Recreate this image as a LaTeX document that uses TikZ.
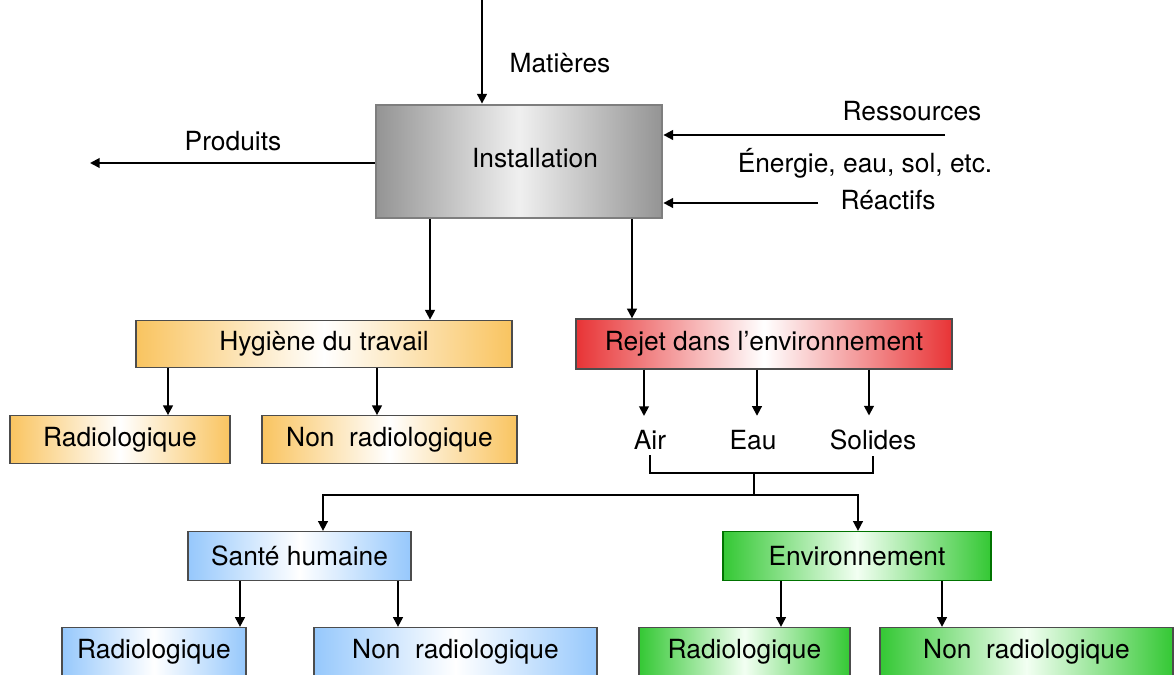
\documentclass[tikz,border=0pt]{standalone}
\usepackage{fontspec}
\setmainfont{TeX Gyre Heros}
\usetikzlibrary{arrows.meta, calc}
\definecolor{instgray}{RGB}{148,148,148}
\definecolor{hygorange}{RGB}{249,196,96}
\definecolor{rejred}{RGB}{232,52,54}
\definecolor{santeblue}{RGB}{150,200,252}
\definecolor{envgreen}{RGB}{52,200,52}
\newcommand{\lbfont}{\fontsize{15}{18}\selectfont}
\tikzset{
  base/.style    = {draw=black!70, line width=0.7pt, inner sep=0pt, font=\lbfont},
  instbox/.style = {base, draw=instgray!85!black, line width=1.6pt,
                    left color=instgray, right color=instgray, middle color=white!94!black,
                    minimum width=5.72cm, minimum height=2.26cm},
  obox/.style    = {base, left color=hygorange, right color=hygorange, middle color=white,
                    minimum height=0.95cm},
  rbox/.style    = {base, left color=rejred, right color=rejred, middle color=white,
                    minimum height=1.0cm},
  bbox/.style    = {base, left color=santeblue, right color=santeblue, middle color=white,
                    minimum height=0.98cm},
  gbox/.style    = {base, left color=envgreen, right color=envgreen, middle color=white!95!green,
                    minimum height=0.98cm},
  arrow/.style   = {-{Triangle[length=5.5pt,width=5.5pt]}, line width=1.1pt},
  lbl/.style     = {font=\lbfont, inner sep=3pt},
}
\begin{document}
\begin{tikzpicture}[x=0.02cm, y=-0.02cm]
  \useasboundingbox (0,0) rectangle (1175,675);
  % central installation and its flows
  \node[instbox] (inst) at (519,161.5) {\hspace*{0.64cm}Installation\rule[-0.15cm]{0pt}{0pt}};
  \coordinate (mat) at (482,0);
  \coordinate (prod) at (90,163);
  \coordinate (res) at (945,135);
  \coordinate (reac) at (818,203);
  \draw[arrow] (mat) -- (inst.north -| mat);
  \draw[arrow] (inst.west |- prod) -- (prod);
  \draw[arrow] (res) -- (inst.east |- res);
  \draw[arrow] (reac) -- (inst.east |- reac);
  \node[lbl] (lmat) at (560,63) {Matières};
  \node[lbl] (lprod) at (233,141) {Produits};
  \node[lbl] (lres) at (912,111) {Ressources};
  \node[lbl] (lener) at (865,163) {Énergie, eau, sol, etc.};
  \node[lbl] (lreac) at (888,200) {Réactifs};

  % second level
  \node[obox, minimum width=7.52cm] (hyg) at (324,344) {Hygiène du travail};
  \node[rbox, minimum width=7.52cm] (rej) at (764,344) {Rejet dans l’environnement};
  \draw[arrow] (inst.south -| 430,0) -- (hyg.north -| 430,0);
  \draw[arrow] (inst.south -| 632,0) -- (rej.north -| 632,0);

  % hygiene du travail
  \node[obox, minimum width=4.4cm] (hrad) at (120,439.5) {Radiologique};
  \node[obox, minimum width=5.1cm] (hnon) at (389.5,439.5) {Non~ radiologique};
  \draw[arrow] (hyg.south -| 168,0) -- (hrad.north -| 168,0);
  \draw[arrow] (hyg.south -| 377,0) -- (hnon.north -| 377,0);

  % rejets
  \node[lbl] (air) at (650,440) {Air};
  \node[lbl] (eau) at (753,440) {Eau};
  \node[lbl] (sol) at (873,440) {Solides};
  \foreach \n/\x in {air/644, eau/757, sol/869} {
    \draw[arrow, shorten >=5pt] (rej.south -| \x,0) -- (\n.north -| \x,0);
  }
  \coordinate (jn) at (754,473);
  \coordinate (split) at (754,495);
  \draw[line width=0.6pt] (air.south) |- (jn) -| (sol.south);
  \draw[line width=0.6pt] (jn) -- (split);

  % impacts
  \node[bbox, minimum width=4.46cm] (sante) at (299.5,556) {Santé humaine};
  \node[gbox, draw=green!45!black, minimum width=5.36cm] (env) at (857,556) {Environnement};
  \draw[arrow, line width=0.9pt] (split) -| (sante.north -| 323,0);
  \draw[arrow, line width=0.9pt] (split) -| (env.north -| 858,0);

  \node[bbox, minimum width=3.68cm] (srad) at (154,652) {Radiologique};
  \node[bbox, minimum width=5.66cm] (snon) at (455.5,652) {Non~ radiologique};
  \node[gbox, minimum width=4.22cm] (erad) at (744.5,652) {Radiologique};
  \node[gbox, minimum width=5.86cm] (enon) at (1026.5,652) {Non~ radiologique};
  \draw[arrow] (sante.south -| 240,0) -- (srad.north -| 240,0);
  \draw[arrow] (sante.south -| 398,0) -- (snon.north -| 398,0);
  \draw[arrow] (env.south -| 781,0) -- (erad.north -| 781,0);
  \draw[arrow] (env.south -| 942,0) -- (enon.north -| 942,0);
\end{tikzpicture}
\end{document}
